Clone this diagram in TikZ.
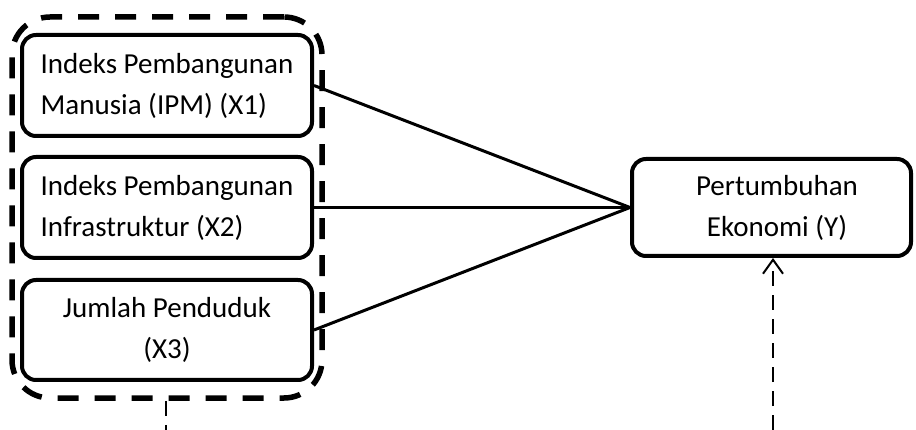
\documentclass[tikz,border=0pt]{standalone}
\usepackage{fontspec}
\setmainfont{Carlito}
\usetikzlibrary{arrows.meta}
\begin{document}
\begin{tikzpicture}[x=1pt,y=-1pt,
  varbox/.style={draw, line width=4pt, rounded corners=14pt, inner sep=0pt,
    font=\fontsize{29}{41}\selectfont},
  vartext/.style={inner sep=0pt, align=center, font=\fontsize{29}{41}\selectfont},
  grpbox/.style={draw, line width=5.5pt, rounded corners=38pt,
    dash pattern=on 21pt off 16pt, inner sep=0pt},
  link/.style={line width=3pt},
  dlink/.style={line width=2pt, dash pattern=on 15pt off 9pt},
]
\useasboundingbox (0,0) rectangle (916,430);

% independent variables and their grouping frame
\node[grpbox, minimum width=310pt, minimum height=381pt] (grp) at (167,207.5) {};
\node[varbox, align=left, minimum width=290pt, minimum height=101pt] (x1) at (167,85.5)
  {Indeks Pembangunan\\Manusia (IPM) (X1)};
\node[varbox, align=left, minimum width=290pt, minimum height=101pt] (x2) at (167,207.5)
  {Indeks Pembangunan\\Infrastruktur (X2)};
\node[varbox, align=center, minimum width=290pt, minimum height=100pt] (x3) at (167,330)
  {Jumlah Penduduk\\(X3)};

% dependent variable (label set slightly right of the box centre)
\node[varbox, minimum width=279pt, minimum height=97pt] (y) at (771.5,207.5) {};
\node[vartext] (ytext) at (777,207.5) {Pertumbuhan\\Ekonomi (Y)};

% direct effects
\draw[link] (x1.east) -- (y.west);
\draw[link] (x2.east) -- (y.west);
\draw[link] (x3.east) -- (y.west);

% lines leaving the picture at the bottom
\coordinate (b1) at (166,430);
\coordinate (b2) at (773,430);
\draw[dlink] (grp.south -| b1) -- (b1);
\draw[dlink, -{Straight Barb[length=14pt, width=20pt, line width=2pt]}] (b2) -- (b2 |- y.south);
\end{tikzpicture}
\end{document}
